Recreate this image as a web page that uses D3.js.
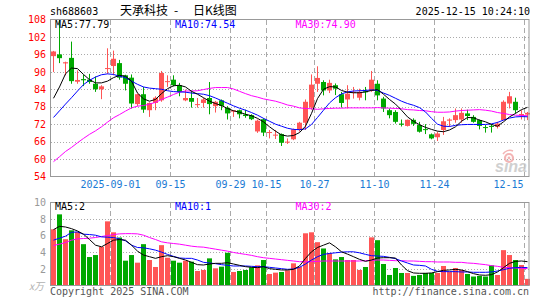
<!DOCTYPE html>
<html><head><meta charset="utf-8">
<script src="https://cdn.jsdelivr.net/npm/d3@7"></script>
<style>
body{margin:0;background:#fff;}
svg{display:block;}
text{font-family:"DejaVu Sans Mono","Liberation Mono",monospace;font-size:10px;}
</style></head><body>
<svg id="c" width="545" height="300"></svg>
<script>
const dates = ["08-18","08-19","08-20","08-21","08-22","08-25","08-26","08-27","08-28","08-29",
"09-01","09-02","09-03","09-04","09-05","09-08","09-09","09-10","09-11","09-12",
"09-15","09-16","09-17","09-18","09-19","09-22","09-23","09-24","09-25","09-26",
"09-29","09-30","10-09","10-10","10-13","10-14","10-15","10-16","10-17","10-20",
"10-21","10-22","10-23","10-24","10-27","10-28","10-29","10-30","10-31","11-03",
"11-04","11-05","11-06","11-07","11-10","11-11","11-12","11-13","11-14","11-17",
"11-18","11-19","11-20","11-21","11-24","11-25","11-26","11-27","11-28","12-01",
"12-02","12-03","12-04","12-05","12-08","12-09","12-10","12-11","12-12","12-15"];
const open = [95.4,96.0,92.9,94.8,86.6,87.5,87.3,85.9,84.0,91.0,
92.0,93.0,88.8,88.0,78.9,82.3,76.8,79.3,80.2,86.6,
87.3,85.4,80.2,81.0,78.6,79.3,81.0,78.2,80.2,77.6,
76.3,76.8,75.3,75.1,69.5,73.7,69.1,68.2,68.6,65.8,
66.8,70.0,72.5,77.7,85.9,86.5,83.6,85.4,82.3,80.5,
82.9,81.1,83.3,83.6,85.9,80.8,76.8,76.2,72.2,71.4,
73.5,71.7,70.3,68.5,67.5,70.0,73.2,73.4,73.6,75.7,
74.5,73.4,71.0,71.4,71.1,73.4,79.1,79.7,75.2,75.3];
const high = [97.2,108.0,93.5,100.4,90.5,89.0,89.3,88.4,85.4,98.1,
97.3,94.1,89.0,89.1,82.6,84.8,79.5,81.6,90.3,88.8,
88.8,86.2,83.9,83.6,81.0,81.0,86.5,80.0,80.5,78.2,
76.8,77.0,77.0,75.4,73.6,74.0,70.0,70.0,68.8,67.1,
70.5,72.8,80.5,89.1,91.9,87.1,87.3,86.0,83.1,85.4,
84.8,84.2,84.8,90.3,87.1,81.4,77.4,76.8,73.6,73.6,
74.0,72.8,72.0,68.8,69.4,74.5,74.0,77.4,77.4,77.0,
75.1,73.6,71.7,72.0,72.8,80.2,83.1,81.1,76.8,76.2];
const low = [89.9,93.0,88.8,85.9,85.9,85.1,85.9,83.1,80.6,89.3,
88.8,87.3,83.6,77.4,78.2,75.9,74.5,76.8,79.7,84.8,
85.0,81.6,79.9,77.7,77.7,77.7,75.4,76.0,76.8,73.6,
74.5,74.0,74.2,73.4,69.0,67.9,67.1,66.9,64.5,65.2,
66.5,69.4,70.0,77.0,83.1,81.9,82.7,82.0,77.7,77.4,
80.8,80.2,80.2,83.1,80.2,76.2,74.0,72.2,71.2,71.2,
71.4,69.1,68.6,66.8,66.2,68.3,71.1,72.5,72.5,73.4,
72.5,70.2,69.1,69.1,70.5,73.4,77.4,75.7,73.6,73.4];
const close = [97.0,94.7,93.3,86.8,87.2,87.1,86.5,84.0,85.0,91.3,
94.5,88.0,85.9,79.1,82.3,77.0,79.3,81.1,89.6,86.8,
85.4,83.1,81.0,79.7,78.9,80.5,78.9,79.7,78.3,75.7,
76.8,75.4,74.8,73.7,73.2,69.1,69.3,68.4,65.6,66.0,
70.2,72.5,79.7,85.6,87.9,83.6,86.2,84.2,79.3,82.5,
83.1,83.1,83.0,87.3,81.9,77.4,75.1,72.8,71.8,73.5,
72.1,69.4,70.1,67.1,68.8,73.0,73.6,75.1,75.9,74.8,
72.8,71.4,70.8,71.2,72.2,79.7,81.6,76.8,75.5,75.9];
const volume = [6.77,8.57,5.58,6.65,6.45,4.98,3.43,3.67,4.66,7.73,
6.41,5.78,2.99,3.67,2.75,4.98,3.07,2.23,4.86,3.35,
2.99,2.75,2.99,2.87,1.75,1.87,3.27,2.07,2.27,3.94,
1.63,1.75,1.87,2.19,2.43,3.07,1.39,1.55,1.63,1.83,
2.67,2.23,6.29,6.41,5.22,4.46,3.90,3.15,3.43,3.07,
3.07,1.87,2.23,5.80,5.46,2.59,1.27,2.11,1.51,1.51,
1.16,1.27,1.51,1.51,1.51,2.35,1.67,2.11,1.87,1.39,
1.08,1.16,1.08,2.43,1.27,4.26,3.67,3.07,2.47,0.80];
const ma5 = [80.9,84.8,89.3,91.3,91.1,89.1,87.3,86.2,86.2,86.8,
88.0,88.8,88.5,86.8,82.7,80.7,79.9,80.5,82.5,84.2,
85.2,85.4,84.8,83.3,82.3,81.1,79.9,79.1,78.4,77.4,
76.6,76.1,75.4,74.9,74.0,72.8,71.1,69.6,68.3,67.9,
68.1,69.1,71.3,75.7,80.8,84.0,84.9,84.8,83.6,83.0,
82.8,82.8,83.1,83.6,83.9,82.3,80.5,78.9,76.8,74.5,
73.0,71.8,70.9,70.2,69.6,69.4,70.0,71.1,73.0,74.3,
74.2,73.4,72.8,71.9,71.3,72.8,74.5,75.7,77.0,77.79];
const ma10 = [74.3,76.6,78.9,81.1,83.4,85.6,87.1,88.2,89.0,89.3,
89.1,88.5,88.0,86.8,85.7,84.8,84.4,84.2,84.0,83.5,
83.2,83.1,83.0,82.7,82.5,82.3,81.8,81.0,80.1,79.2,
78.3,77.5,76.8,76.0,75.1,74.0,73.0,72.0,71.3,70.6,
70.2,70.1,70.4,71.9,74.3,76.8,79.3,81.1,82.4,83.1,
83.4,83.5,83.6,83.8,83.6,82.7,81.9,80.9,79.9,79.1,
78.5,77.7,76.2,74.0,72.0,71.3,71.2,71.6,71.8,71.9,
71.9,71.9,71.9,72.1,72.6,73.4,74.1,74.5,74.6,74.54];
const ma30 = [59.1,60.8,62.6,64.0,65.6,67.1,68.5,69.7,71.1,72.7,
74.2,75.3,76.5,77.6,78.2,78.4,78.9,79.5,80.5,81.3,
82.2,83.0,83.4,83.4,83.5,83.9,84.3,84.6,84.6,84.6,
84.1,83.3,82.5,81.8,81.3,80.7,80.3,79.9,79.3,78.6,
78.2,77.6,77.4,77.3,77.1,77.3,77.4,77.5,77.5,77.6,
77.6,77.6,77.6,77.6,77.7,77.6,77.5,77.4,77.3,77.0,
76.9,76.7,76.6,76.3,76.1,76.1,76.2,76.5,76.7,76.8,
76.9,77.0,76.8,76.5,76.0,75.7,75.3,75.1,75.0,74.90];
const vma5 = [6.73,7.13,7.05,6.85,6.57,6.18,5.54,4.86,4.66,5.06,
5.46,5.54,5.46,4.86,4.14,3.67,3.47,3.27,3.47,3.59,
3.47,3.27,3.07,2.79,2.51,2.47,2.59,2.67,2.67,2.75,
2.59,2.43,2.27,2.19,2.15,2.27,2.03,1.95,1.87,1.87,
1.95,2.35,3.27,4.06,4.58,4.86,5.14,4.66,4.06,3.78,
3.47,3.15,2.91,3.07,3.31,3.35,3.35,3.31,2.47,1.79,
1.51,1.47,1.47,1.51,1.67,1.83,1.87,1.95,1.87,1.67,
1.43,1.27,1.23,1.31,1.63,2.15,2.67,2.91,2.95,2.87];
const vma10 = [5.46,5.70,5.94,6.41,6.45,6.18,6.14,6.06,5.86,5.82,
5.78,5.62,5.38,4.86,4.58,4.54,4.42,4.26,4.02,3.75,
3.51,3.31,3.27,3.27,3.07,2.79,2.71,2.63,2.51,2.43,
2.35,2.35,2.35,2.31,2.27,2.27,2.19,2.11,2.03,1.95,
1.99,2.19,2.59,3.07,3.47,3.75,3.86,3.94,4.02,4.06,
4.06,3.94,3.75,3.59,3.55,3.51,3.39,3.23,2.95,2.71,
2.47,2.43,2.35,1.95,1.71,1.67,1.67,1.67,1.63,1.63,
1.59,1.59,1.59,1.63,1.75,1.91,2.07,2.15,2.19,2.15];
const vma30 = [4.82,4.98,5.18,5.46,5.62,5.66,5.70,5.78,5.90,6.02,
6.14,6.22,6.25,6.25,6.22,6.06,5.78,5.54,5.26,5.14,
5.06,4.98,4.86,4.74,4.66,4.62,4.50,4.38,4.26,4.14,
3.98,3.86,3.75,3.63,3.47,3.35,3.27,3.19,3.11,3.03,
2.95,2.87,2.87,2.87,2.91,2.95,2.95,2.95,2.95,2.95,
2.95,2.95,2.99,3.03,3.07,3.07,3.03,2.99,2.99,2.95,
2.95,2.91,2.87,2.87,2.83,2.83,2.83,2.79,2.79,2.71,
2.67,2.59,2.51,2.39,2.31,2.19,2.15,2.11,2.07,2.03];
const priceTicks = [54,60,66,72,78,84,90,96,102,108];
const volTicks = [2,4,6,8,10];
const tickDates = ["09-01","09-15","09-29","10-15","10-27","11-10","11-24","12-15"];
const tickLabels = ["2025-09-01","09-15","09-29","10-15","10-27","11-10","11-24","12-15"];

const UP = "#ff5555", DOWN = "#00a800";
const svg = d3.select("#c");
const n = dates.length;
const x = d3.scaleLinear().domain([0, n]).range([50, 530]);
const y = d3.scaleLinear().domain([54, 108]).range([176.5, 19.5]);
const vy = d3.scaleLinear().domain([0, 10]).range([285.5, 202.5]);
const tickIdx = tickDates.map(d => dates.indexOf(d));
const cx = i => x(i) + 3.5;

// grids
function grid(scale, ticks, top, bottom) {
  svg.append("g").selectAll("line").data(ticks).join("line")
    .attr("x1", 51).attr("x2", 529)
    .attr("y1", d => Math.round(scale(d)) + 0.5).attr("y2", d => Math.round(scale(d)) + 0.5)
    .attr("stroke", "#aaa").attr("stroke-dasharray", "1,2");
  svg.append("g").selectAll("line").data(tickIdx).join("line")
    .attr("x1", d => x(d) + 0.5).attr("x2", d => x(d) + 0.5)
    .attr("y1", top).attr("y2", bottom)
    .attr("stroke", "#aaa").attr("stroke-dasharray", "5,3");
}
grid(y, priceTicks.filter(t => t > 54 && t < 108), 20, 176);
grid(vy, volTicks.filter(t => t < 10), 203, 285);

// candles
const cg = svg.append("g");
const col = i => close[i] >= open[i] ? UP : DOWN;
cg.selectAll("line").data(d3.range(n)).join("line")
  .attr("x1", cx).attr("x2", cx)
  .attr("y1", i => y(high[i])).attr("y2", i => y(low[i]))
  .attr("stroke", col);
cg.selectAll("rect").data(d3.range(n)).join("rect")
  .attr("x", i => x(i) + 1).attr("width", 5)
  .attr("y", i => y(Math.max(open[i], close[i])))
  .attr("height", i => Math.max(1, Math.abs(y(open[i]) - y(close[i]))))
  .attr("fill", col);

// volume bars
svg.append("g").selectAll("rect").data(d3.range(n)).join("rect")
  .attr("x", i => x(i) + 1).attr("width", 5)
  .attr("y", i => vy(volume[i])).attr("height", i => vy(0) - vy(volume[i]))
  .attr("fill", col);

// MA lines
function maLine(arr, scale, color) {
  svg.append("path").datum(arr)
    .attr("d", d3.line().x((d, i) => cx(i)).y(d => scale(d)))
    .attr("fill", "none").attr("stroke", color).attr("stroke-width", 1);
}
maLine(ma30, y, "#ff00ff"); maLine(ma10, y, "#0000ff"); maLine(ma5, y, "#000");
maLine(vma30, vy, "#ff00ff"); maLine(vma10, vy, "#0000ff"); maLine(vma5, vy, "#000");

// frames
svg.append("rect").attr("x", 50.5).attr("y", 19.5).attr("width", 478.5).attr("height", 157)
  .attr("fill", "none").attr("stroke", "#999");
svg.append("rect").attr("x", 50.5).attr("y", 202.5).attr("width", 478.5).attr("height", 83)
  .attr("fill", "none").attr("stroke", "#999");

// axes
const ay = svg.append("g").attr("transform", "translate(50,0)")
  .call(d3.axisLeft(y).tickValues(priceTicks).tickSize(0).tickPadding(4));
ay.select(".domain").remove();
ay.selectAll("text").attr("fill", "#ff0000").style("font-family", "DejaVu Sans Mono").style("font-size", "10px");

const av = svg.append("g").attr("transform", "translate(50,0)")
  .call(d3.axisLeft(vy).tickValues(volTicks).tickSize(0).tickPadding(4));
av.select(".domain").remove();
av.selectAll("text").attr("fill", "#999").style("font-family", "DejaVu Sans Mono").style("font-size", "10px");

const ax = svg.append("g").attr("transform", "translate(0,181)")
  .call(d3.axisBottom(x).tickValues(tickIdx).tickFormat((d, k) => tickLabels[k]).tickSize(0).tickPadding(0));
ax.select(".domain").remove();
ax.selectAll("text").attr("fill", "#1a7ad4").style("font-family", "DejaVu Sans Mono").style("font-size", "10px");
ax.selectAll(".tick").filter((d, k) => k === tickIdx.length - 1).select("text")
  .attr("text-anchor", "end").attr("x", -1);

// header
const t = (xx, yy, s, fill, anchor) => svg.append("text").attr("x", xx).attr("y", yy)
  .attr("fill", fill).attr("text-anchor", anchor || "start").text(s);
t(50, 14.5, "sh688603", "#000");
const title = svg.append("text").attr("y", 15).attr("fill", "#000")
  .style("font-family", "'Noto Sans CJK SC',sans-serif").style("font-size", "12px");
title.append("tspan").attr("x", 120).text("天承科技");
title.append("tspan").attr("x", 174).text("-");
title.append("tspan").attr("x", 193).text("日K线图");
t(530, 14.5, "2025-12-15 10:24:10", "#000", "end");

t(55, 28, "MA5:" + ma5[n - 1].toFixed(2), "#000");
t(175, 28, "MA10:" + ma10[n - 1].toFixed(2), "#0000ff");
t(295.5, 28, "MA30:" + ma30[n - 1].toFixed(2), "#ff00ff");
t(55, 210, "MA5:2", "#000");
t(175, 210, "MA10:1", "#0000ff");
t(295.5, 210, "MA30:2", "#ff00ff");

svg.append("text").attr("x", 29).attr("y", 289.5).attr("fill", "#b0b0b0")
  .style("font-family", "'Noto Sans CJK SC',sans-serif").style("font-size", "10px").style("font-style", "italic").text("x万");
t(50, 295, "Copyright 2025 SINA.COM", "#555");
t(529, 295, "http://finance.sina.com.cn", "#555", "end");

// watermark
const wm = svg.append("g").attr("opacity", 0.85);
wm.append("text").attr("x", 495).attr("y", 171.5).attr("fill", "#c8c8c8")
  .style("font-family", "'Liberation Sans',sans-serif").style("font-size", "16px")
  .style("font-weight", "bold").style("font-style", "italic").text("sina");
wm.append("circle").attr("cx", 509).attr("cy", 158).attr("r", 4).attr("fill", "none")
  .attr("stroke", "#f2a8a8").attr("stroke-width", 2.2);
wm.append("circle").attr("cx", 509).attr("cy", 158).attr("r", 1.4).attr("fill", "#f2a8a8");
wm.append("path").attr("d", "M503,154 A8,8 0 0 1 513,151").attr("fill", "none")
  .attr("stroke", "#f2a8a8").attr("stroke-width", 1.5);
</script>
</body></html>
